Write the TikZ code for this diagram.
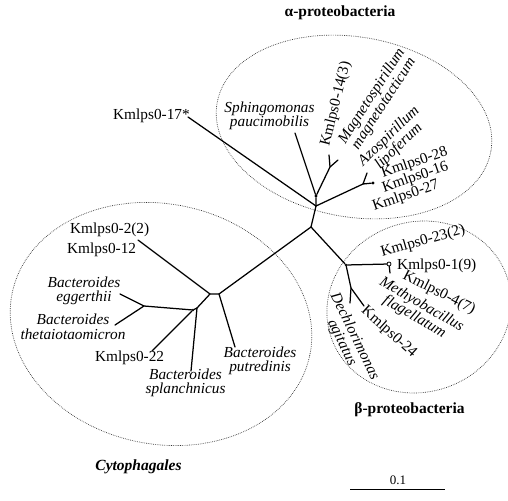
\documentclass[tikz,border=0pt]{standalone}
\usepackage{fontspec}
\setmainfont{Liberation Serif}
\begin{document}
\begin{tikzpicture}[x=1pt,y=-1pt,
  br/.style={line width=1.25pt, line cap=round, line join=round},
  lab/.style={font=\fontsize{15.3}{14.2}\selectfont, inner sep=0pt},
  sp/.style={font=\fontsize{15.3}{14.2}\selectfont\itshape, inner sep=0pt, align=center},
  ttl/.style={font=\fontsize{15.5}{16}\selectfont\bfseries, inner sep=0pt, anchor=base},
  grp/.style={draw=black!80, line width=0.7pt, dash pattern=on 0.7pt off 1.1pt},
  jdot/.style={circle, fill=black, inner sep=0pt, minimum size=3.2pt},
  jring/.style={circle, draw=black, line width=0.8pt, inner sep=0pt, minimum size=4pt}]
\useasboundingbox (0,0) rectangle (508,500);

% group ellipses
\draw[grp, rotate around={-10:(354,127)}] (354,127) ellipse [x radius=139pt, y radius=90pt];
\draw[grp, rotate around={-12:(161,324)}] (161,324) ellipse [x radius=152pt, y radius=120pt];
\draw[grp, rotate around={20:(419,307)}] (419,307) ellipse [x radius=93pt, y radius=85pt];

% junctions and tips
\coordinate (C) at (311,227);
\coordinate (A1) at (316,206);
\node[jdot] (A2) at (316,196) {};
\coordinate (T17) at (188,117);
\coordinate (Tsph) at (295,133);
\coordinate (M) at (330,167);
\coordinate (T14) at (329,155);
\coordinate (Tmag) at (338,160);
\coordinate (AZ) at (363,184);
\coordinate (Taz) at (367,173);
\node[jdot] (K28) at (373,183) {};

\node[jdot, minimum size=2.6pt] (B) at (346,265) {};
\node[jring] (Q) at (389,264) {};
\coordinate (Tq) at (390,273);
\coordinate (BF) at (351,288);
\coordinate (Tdech) at (350,303);
\coordinate (T24) at (364,306);

\coordinate (D1) at (219,294);
\coordinate (D2) at (210,294);
\coordinate (T12) at (138,240);
\coordinate (Tput) at (235,347);
\coordinate (E) at (197,308);
\node[jdot, minimum size=2.6pt] (G) at (193,310) {};
\coordinate (Tspl) at (191,371);
\coordinate (F) at (144,306);
\coordinate (T22) at (152,351);
\coordinate (Tegg) at (120,294);
\coordinate (Tthe) at (115,325);

% branches
\draw[br] (C) -- (A1) -- (T17);
\draw[br] (A1) -- (A2) -- (Tsph);
\draw[br] (A2) -- (M) -- (T14);
\draw[br] (M) -- (Tmag);
\draw[br] (A1) -- (AZ) -- (K28);
\draw[br] (AZ) -- (Taz);
\draw[br] (C) -- (B) -- (Q);
\draw[br] (Q) -- (Tq);
\draw[br] (B) -- (BF) -- (Tdech);
\draw[br] (BF) -- (T24);
\draw[br] (C) -- (D1) -- (D2) -- (T12);
\draw[br] (D1) -- (Tput);
\draw[br] (D2) -- (E) -- (Tspl);
\draw[br] (E) -- (G) -- (F) -- (Tegg);
\draw[br] (F) -- (Tthe);
\draw[br] (G) -- (T22);

% alpha labels
\node[lab, anchor=base west] (l17) at (113,120) {Kmlps0-17*};
\node[sp] (lsph) at (269.5,115.6) {Sphingomonas\\paucimobilis};
\node[lab, rotate=76] (l14) at (336,104) {Kmlps0-14(3)};
\node[sp, rotate=57] (lmag) at (378,100) {Magnetospirillum\\magnetotacticum};
\node[sp, rotate=44] (laz) at (394,141.5) {Azospirillum\\lipoferum};
\node[lab, rotate=19, anchor=north west, align=left] (l28) at (361.5,173.6)
  {\hspace*{19pt}Kmlps0-28\\\hspace*{15pt}Kmlps0-16\\Kmlps0-27};

% beta labels
\node[lab, rotate=16] (l23) at (423,241.5) {Kmlps0-23(2)};
\node[lab, anchor=base west] (l1) at (397,269) {Kmlps0-1(9)};
\node[lab, rotate=-27] (l4) at (439,293) {Kmlps0-4(7)};
\node[sp, rotate=-30] (lmet) at (418,311) {Methyobacillus\\flagellatum};
\node[lab, rotate=-42] (l24) at (389,332) {Kmlps0-24};
\node[sp, rotate=-64] (ldec) at (348,339.5) {Dechlorimonas\\agitatus};

% cytophagales labels
\node[lab, anchor=base west] (l2) at (70,233) {Kmlps0-2(2)};
\node[lab, anchor=base west] (l12) at (67,253) {Kmlps0-12};
\node[sp] (legg) at (84,290.8) {Bacteroides\\eggerthii};
\node[sp] (lthe) at (73,326.8) {Bacteroides\\thetaiotaomicron};
\node[lab, anchor=base west] (l22) at (95,361.5) {Kmlps0-22};
\node[sp] (lspl) at (185.5,382.8) {Bacteroides\\splanchnicus};
\node[sp] (lput) at (260,361) {Bacteroides\\putredinis};

% group titles
\node[ttl] (talpha) at (340,17) {α-proteobacteria};
\node[ttl] (tbeta) at (409.5,413.5) {β-proteobacteria};
\node[ttl, font=\fontsize{15.5}{16}\selectfont\bfseries\itshape] (tcyto) at (138.5,470) {Cytophagales};

% scale bar
\node[font=\fontsize{13}{14}\selectfont, inner sep=0pt, anchor=base] (sc) at (398,484) {0.1};
\coordinate (S1) at (350,489);
\coordinate (S2) at (445,489);
\draw[line width=1pt] (S1) -- (S2);
\end{tikzpicture}
\end{document}
